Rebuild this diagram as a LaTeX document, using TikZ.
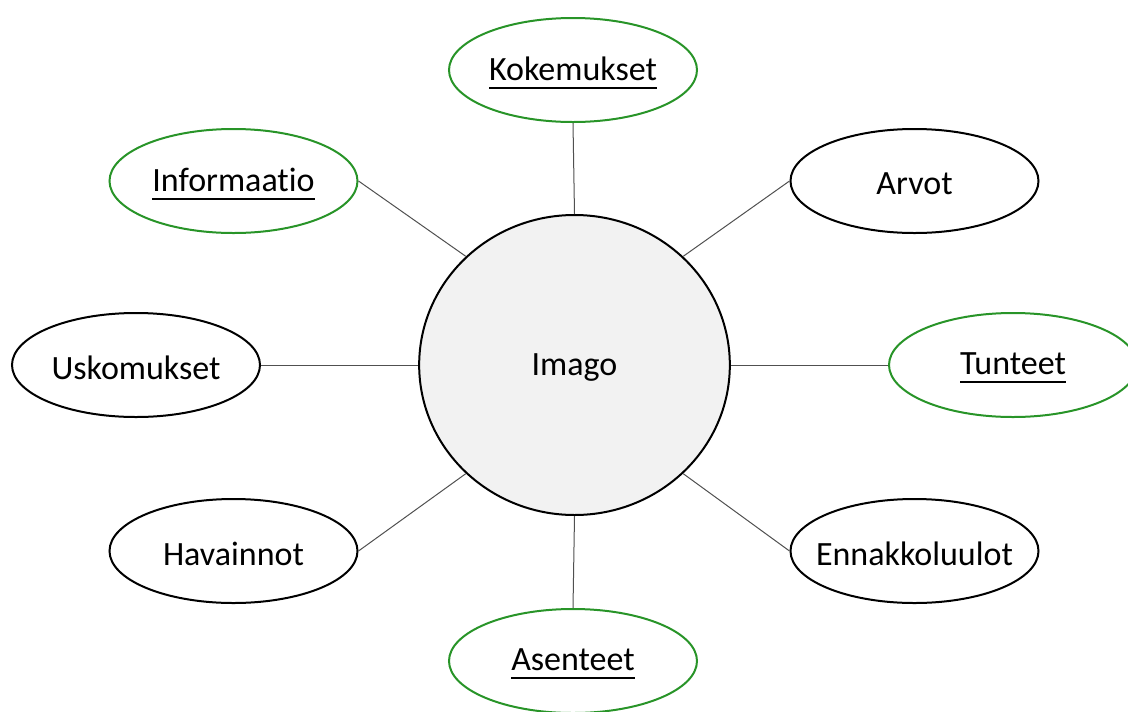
\documentclass[tikz,border=0pt]{standalone}
\usepackage{fontspec}
\setmainfont[Ligatures={NoCommon,NoRare}]{Carlito}
\usetikzlibrary{shapes.geometric}
\definecolor{grn}{RGB}{40,148,40}
\definecolor{circfill}{RGB}{242,242,242}
\definecolor{linegray}{RGB}{80,80,80}
\newcommand\myul[1]{\setbox0\hbox{#1}\rlap{\rule[-6.3pt]{\wd0}{1.2pt}}\box0}
\newcommand\lbl[1]{\raisebox{-2.2pt}[\height][\depth]{\makebox[0pt]{#1}}}
\tikzset{
  px/.style={x=0.75pt,y=-0.75pt},
  oval/.style={ellipse,draw=black,line width=1.5pt,minimum width=186pt,minimum height=78pt,inner sep=0pt,font=\fontsize{25.5}{29}\selectfont},
  goval/.style={oval,draw=grn},
  hub/.style={ellipse,draw=black,line width=1.5pt,fill=circfill,minimum width=233pt,minimum height=225pt,inner sep=0pt,font=\fontsize{25.5}{29}\selectfont},
  conn/.style={draw=linegray,line width=0.75pt}
}
\begin{document}
\begin{tikzpicture}[px]
\useasboundingbox (0,0) rectangle (1128,711);
\clip (0,0) rectangle (1128,711);
\node[hub] (c) at (574.5,365) {\lbl{Imago}};
\node[goval] (kok) at (573,70) {\lbl{\myul{Kokemukset}}};
\node[goval] (inf) at (233.5,181) {\lbl{\myul{Informaatio}}};
\node[oval] (arv) at (914.5,181) {\lbl{Arvot}};
\node[oval] (usk) at (136,365) {\lbl{Uskomukset}};
\node[goval] (tun) at (1013,365) {\lbl{\myul{Tunteet}}};
\node[oval] (hav) at (233.5,551) {\lbl{Havainnot}};
\node[oval] (enn) at (914.5,551) {\lbl{Ennakkoluulot}};
\node[goval] (ase) at (573,661) {\lbl{\myul{Asenteet}}};
\draw[conn] (kok.south) -- (c.north);
\draw[conn] (inf.east) -- (c.135);
\draw[conn] (arv.west) -- (c.45);
\draw[conn] (usk.east) -- (c.west);
\draw[conn] (tun.west) -- (c.east);
\draw[conn] (hav.east) -- (c.225);
\draw[conn] (enn.west) -- (c.315);
\draw[conn] (ase.north) -- (c.south);
\end{tikzpicture}
\end{document}
